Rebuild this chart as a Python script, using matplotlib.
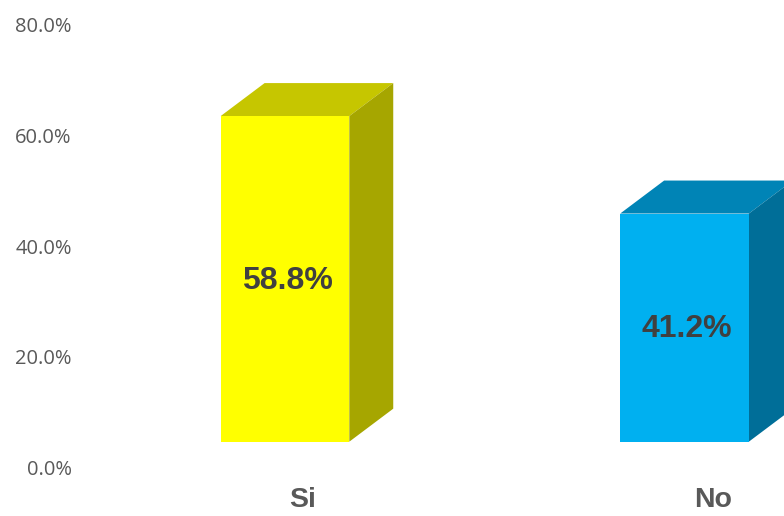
import matplotlib
matplotlib.use("Agg")
from matplotlib import pyplot as plt
from matplotlib.ticker import FuncFormatter

# data
categories = ["Si", "No"]
values = [58.8, 41.2]
value_labels = ["58.8%", "41.2%"]
y_ticks = [0, 20, 40, 60, 80]

front_colors = ["#FFFF00", "#00B0F0"]
top_colors = ["#C6C600", "#0084B6"]
side_colors = ["#A6A600", "#006E98"]

W, H = 784, 516
fig = plt.figure(figsize=(W / 100, H / 100), dpi=100)
ax = fig.add_axes([80 / W, 48.5 / H, 704 / W, 443 / H])

ax.set_ylim(0, 80)
ax.set_xlim(-0.513, 1.249)

base = 4.66      # floor of the 3d box above the 0 line
width = 0.322    # front face width
dx = 0.110       # depth offset in x
dy = 5.96        # depth offset in y

for i, v in enumerate(values):
    left = i - width / 2
    right = i + width / 2
    top = base + v
    ax.bar(i, v, width=width, bottom=base, color=front_colors[i], linewidth=0, zorder=3)
    ax.fill([left, right, right + dx, left + dx], [top, top, top + dy, top + dy],
            color=top_colors[i], linewidth=0, zorder=2, clip_on=False)
    ax.fill([right, right + dx, right + dx, right], [base, base + dy, top + dy, top],
            color=side_colors[i], linewidth=0, zorder=2, clip_on=False)
    ax.text(i + 0.005, base + v / 2 - 0.3, value_labels[i], ha="center", va="center",
            fontsize=23, fontweight="bold", color="#404040",
            family="Liberation Sans", zorder=4)

for s in ax.spines.values():
    s.set_visible(False)

ax.set_yticks(y_ticks)
ax.yaxis.set_major_formatter(FuncFormatter(lambda y, p: "%.1f%%" % y))
for lab in ax.get_yticklabels():
    lab.set_family("Open Sans")
    lab.set_fontsize(14.5)
    lab.set_color("#595959")
ax.tick_params(axis="y", length=0, pad=6)

# category labels sit a little right of the front face centre
ax.set_xticks([0.043, 1.071])
ax.set_xticklabels(categories, fontsize=20.5, fontweight="bold", color="#595959",
                   family="Liberation Sans")
ax.tick_params(axis="x", length=0, pad=14)

fig.savefig("out.png", dpi=100)
